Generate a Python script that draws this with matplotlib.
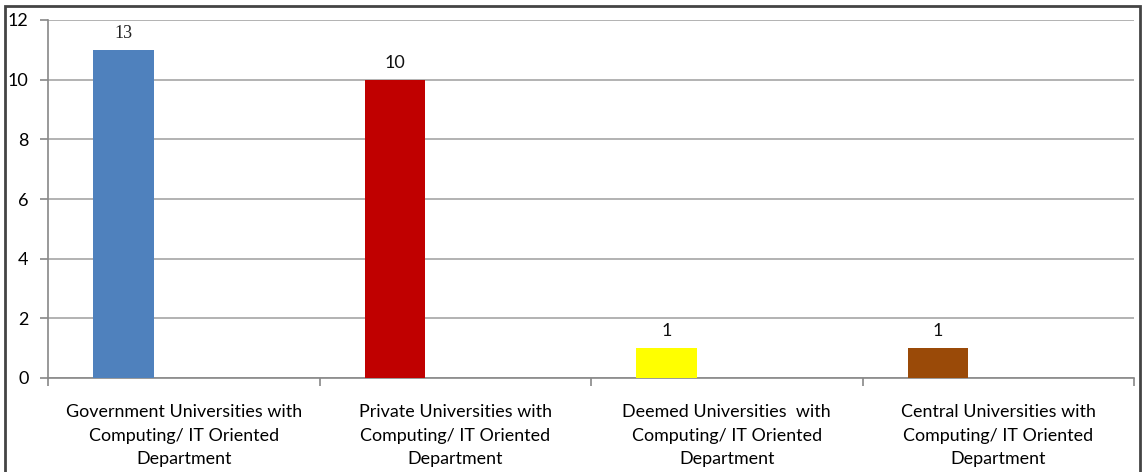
import numpy as np
import matplotlib.pyplot as plt
from matplotlib.patches import Rectangle

categories = ['Government Universities with\nComputing/ IT Oriented\nDepartment',
              'Private Universities with\nComputing/ IT Oriented\nDepartment',
              'Deemed Universities  with\nComputing/ IT Oriented\nDepartment',
              'Central Universities with\nComputing/ IT Oriented\nDepartment']
heights = [11, 10, 1, 1]
value_labels = ['13', '10', '1', '1']
colors = ['#4F81BD', '#C00000', '#FFFF00', '#9A4A08']
yticks = [0, 2, 4, 6, 8, 10, 12]

plt.rcParams['font.family'] = ['Lato', 'DejaVu Sans']

fig = plt.figure(figsize=(11.42, 4.72), dpi=100)
ax = fig.add_axes([48 / 1142, 94 / 472, 1086 / 1142, 358 / 472])

# clustered layout: one series drawn in the first of three slots
x = np.arange(len(categories))
w = 1 / 4.5
ax.bar(x - w, heights, width=w, color=colors, zorder=3)

for xi, h, lab in zip(x, heights, value_labels):
    if lab == '13':
        ax.text(xi - w, h + 0.25, lab, ha='center', va='bottom',
                fontsize=13, family='Liberation Serif', color='#222222')
    else:
        ax.text(xi - w, h + 0.3, lab, ha='center', va='bottom',
                fontsize=13, color='#111111')

ax.set_xlim(-0.5, len(categories) - 0.5)
ax.set_ylim(0, 12)
ax.set_yticks(yticks)
ax.set_yticklabels([str(t) for t in yticks], fontsize=13)
ax.yaxis.grid(True, color='#a6a6a6', linewidth=1.2, zorder=0)
ax.set_axisbelow(True)

ax.set_xticks(x)
ax.set_xticklabels(categories, fontsize=12.9, linespacing=1.56)
ax.tick_params(axis='x', length=0, pad=19)
ax.set_xticks(np.arange(len(categories) + 1) - 0.5, minor=True)
ax.tick_params(axis='x', which='minor', length=6, color='#888888', width=1.2)
ax.tick_params(axis='y', length=6, color='#888888', width=1.2, pad=8)

for side in ['top', 'right']:
    ax.spines[side].set_visible(False)
for side in ['left', 'bottom']:
    ax.spines[side].set_color('#888888')
    ax.spines[side].set_linewidth(1.2)

# outer chart frame
fig.patches.append(Rectangle((5 / 1142, -0.05), 1135 / 1142, 1.05 - 6 / 472,
                             transform=fig.transFigure, fill=False,
                             edgecolor='#444444', linewidth=2))

fig.savefig('out.png', dpi=100)
